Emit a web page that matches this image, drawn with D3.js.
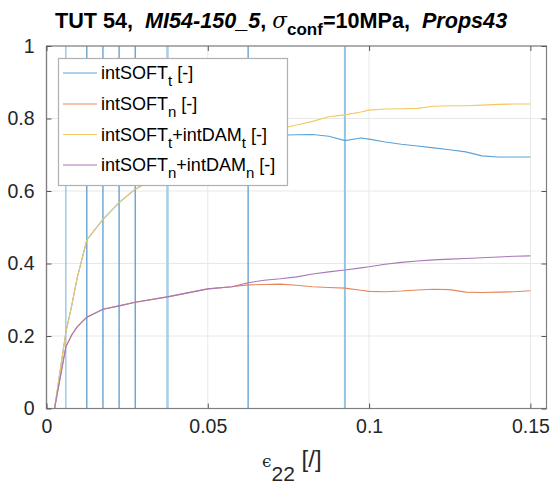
<!DOCTYPE html>
<html>
<head>
<meta charset="utf-8">
<script src="https://cdn.jsdelivr.net/npm/d3@7"></script>
<style>
  html, body { margin: 0; padding: 0; background: #fff; }
  svg { display: block; font-family: "Liberation Sans", Arial, Helvetica, sans-serif; }
  text { white-space: pre; }
</style>
</head>
<body>
<svg id="chart" width="550" height="484"></svg>
<script>
// Strain steps (epsilon_22) at which the interface quantities were sampled
const strain = [0, 0.0025, 0.006, 0.0078, 0.0095, 0.0125, 0.0175, 0.0225, 0.0275, 0.0375, 0.05, 0.0575,
  0.0625, 0.0675, 0.0725, 0.0775, 0.0825, 0.0875, 0.0925, 0.0975, 0.1, 0.105, 0.11, 0.115, 0.12,
  0.125, 0.13, 0.135, 0.14, 0.145, 0.15];

const intSOFTt = [0, 0, 0.21, 0.283, 0.36, 0.465, 0.522, 0.568, 0.605, 0.655, 0.70, 0.722,
  0.738, 0.748, 0.754, 0.755, 0.756, 0.751, 0.739, 0.746, 0.743, 0.735, 0.729, 0.724, 0.719,
  0.714, 0.708, 0.697, 0.694, 0.694, 0.694];

const intSOFTn = [0, 0, 0.17, 0.203, 0.225, 0.252, 0.274, 0.283, 0.293, 0.308, 0.330, 0.336,
  0.341, 0.342, 0.343, 0.340, 0.336, 0.334, 0.332, 0.326, 0.323, 0.322, 0.324, 0.327, 0.329,
  0.328, 0.321, 0.320, 0.321, 0.322, 0.325];

const intSOFTtDAMt = [0, 0, 0.21, 0.283, 0.36, 0.465, 0.522, 0.568, 0.605, 0.655, 0.70, 0.725,
  0.742, 0.757, 0.772, 0.782, 0.792, 0.805, 0.810, 0.818, 0.823, 0.826, 0.827, 0.828, 0.834,
  0.835, 0.835, 0.837, 0.839, 0.840, 0.840];

const intSOFTnDAMn = [0, 0, 0.17, 0.203, 0.225, 0.252, 0.274, 0.283, 0.293, 0.308, 0.330, 0.336,
  0.347, 0.354, 0.358, 0.363, 0.371, 0.377, 0.382, 0.388, 0.391, 0.398, 0.403, 0.407, 0.410,
  0.412, 0.414, 0.416, 0.418, 0.420, 0.421];

// Marked load steps (vertical reference lines)
const markedSteps = [0, 0.006, 0.0125, 0.0175, 0.0225, 0.0275, 0.0375, 0.0625, 0.0925];
const markedColor = ["#5b8fbf", "#86bde0", "#4f92c7", "#4f92c7", "#4f92c7", "#4f92c7", "#a9d0ea", "#4f97cf", "#92c4e6"];
const markedWidth = [1.2, 1.2, 1.2, 1.2, 1.2, 1.2, 2.6, 1.2, 2.0];

const xTicks = [0, 0.05, 0.1, 0.15];
const xTickLabels = ["0", "0.05", "0.1", "0.15"];
const yTicks = [0, 0.2, 0.4, 0.6, 0.8, 1];
const yTickLabels = ["0", "0.2", "0.4", "0.6", "0.8", "1"];

const seriesNames = ["intSOFT_t", "intSOFT_n", "intSOFT_t+intDAM_t", "intSOFT_n+intDAM_n"];
const seriesColors = ["#5aa3d8", "#e5875a", "#f4c862", "#a678b8"];

const svg = d3.select("#chart");
const m = { left: 46.5, right: 546.5, top: 46, bottom: 408.5 };

const x = d3.scaleLinear().domain([0, 0.155]).range([m.left, m.right]);
const y = d3.scaleLinear().domain([0, 1]).range([m.bottom, m.top]);

// grid
const grid = svg.append("g");
grid.selectAll(".gx").data(xTicks).join("line")
  .attr("x1", d => x(d)).attr("x2", d => x(d))
  .attr("y1", m.top).attr("y2", m.bottom)
  .attr("stroke", "#e8e8e8").attr("stroke-width", 1);
grid.selectAll(".gy").data(yTicks).join("line")
  .attr("x1", m.left).attr("x2", m.right)
  .attr("y1", d => y(d)).attr("y2", d => y(d))
  .attr("stroke", "#e8e8e8").attr("stroke-width", 1);

// vertical step markers
svg.append("g").selectAll("line").data(markedSteps).join("line")
  .attr("x1", d => x(d)).attr("x2", d => x(d))
  .attr("y1", m.top).attr("y2", m.bottom)
  .attr("stroke", (d, i) => markedColor[i])
  .attr("stroke-width", (d, i) => markedWidth[i]);

// series
const series = [intSOFTt, intSOFTn, intSOFTtDAMt, intSOFTnDAMn];
const line = d3.line().x(d => x(d[0])).y(d => y(d[1]));
series.forEach((vals, i) => {
  svg.append("path")
    .datum(strain.map((s, k) => [s, vals[k]]))
    .attr("d", line)
    .attr("fill", "none")
    .attr("stroke", seriesColors[i])
    .attr("stroke-width", 1.1);
});

// axes box
const axisColor = "#808080";
const box = svg.append("g").attr("fill", "none");
box.append("rect")
  .attr("x", m.left).attr("y", m.top)
  .attr("width", m.right - m.left).attr("height", m.bottom - m.top)
  .attr("stroke", axisColor).attr("stroke-width", 1.2);

const xAxis = d3.axisBottom(x).tickValues(xTicks).tickFormat((d, i) => xTickLabels[i]).tickSizeInner(-5).tickSizeOuter(0).tickPadding(11);
const gx = svg.append("g").attr("transform", `translate(0,${m.bottom})`).call(xAxis);
gx.select(".domain").remove();
gx.selectAll(".tick line").attr("stroke", "#555");
gx.selectAll(".tick text").attr("font-size", 19.5).attr("fill", "#262626")
  .attr("font-family", "Liberation Sans, Arial, sans-serif");

const xAxisTop = d3.axisTop(x).tickValues(xTicks).tickFormat("").tickSizeInner(-5).tickSizeOuter(0);
const gxt = svg.append("g").attr("transform", `translate(0,${m.top})`).call(xAxisTop);
gxt.select(".domain").remove();
gxt.selectAll(".tick line").attr("stroke", "#555");

const yAxis = d3.axisLeft(y).tickValues(yTicks).tickFormat((d, i) => yTickLabels[i]).tickSizeInner(-5).tickSizeOuter(0).tickPadding(12);
const gy = svg.append("g").attr("transform", `translate(${m.left},0)`).call(yAxis);
gy.select(".domain").remove();
gy.selectAll(".tick line").attr("stroke", "#555");
gy.selectAll(".tick text").attr("font-size", 19.5).attr("fill", "#262626")
  .attr("font-family", "Liberation Sans, Arial, sans-serif");

const yAxisRight = d3.axisRight(y).tickValues(yTicks).tickFormat("").tickSizeInner(-5).tickSizeOuter(0);
const gyr = svg.append("g").attr("transform", `translate(${m.right},0)`).call(yAxisRight);
gyr.select(".domain").remove();
gyr.selectAll(".tick line").attr("stroke", "#555");

// title
const title = svg.append("text")
  .attr("x", 55).attr("y", 28)
  .attr("font-size", 21.6).attr("font-weight", "bold").attr("fill", "#000");
title.append("tspan").text("TUT 54,  ");
title.append("tspan").attr("font-style", "italic").text("MI54-150_5");
title.append("tspan").text(", ");
title.append("tspan").attr("font-weight", "normal").attr("font-family", "DejaVu Serif, serif").attr("font-style", "italic").text("σ");
title.append("tspan").attr("dy", 7).attr("font-size", 17).text("conf");
title.append("tspan").attr("dy", -7).text("=10MPa,  ");
title.append("tspan").attr("font-style", "italic").text("Props43");

// x label
const xl = svg.append("text")
  .attr("x", 262).attr("y", 467)
  .attr("font-size", 24).attr("fill", "#262626");
xl.append("tspan").attr("font-family", "DejaVu Serif, serif").attr("font-size", 17).text("ϵ");
xl.append("tspan").attr("dy", 14).attr("font-size", 21).text("22");
xl.append("tspan").attr("dy", -14).text(" [/]");

// legend
const lg = svg.append("g");
lg.append("rect")
  .attr("x", 58.5).attr("y", 58.5).attr("width", 229).attr("height", 127)
  .attr("fill", "#fff").attr("stroke", "#b0b0b0").attr("stroke-width", 1.2);
const rowY = [73, 104, 134.5, 165];
seriesNames.forEach((name, i) => {
  const cy = rowY[i];
  lg.append("line")
    .attr("x1", 63).attr("x2", 97).attr("y1", cy).attr("y2", cy)
    .attr("stroke", seriesColors[i]).attr("stroke-width", 1.1);
  const t = lg.append("text").attr("x", 101).attr("y", cy + 6)
    .attr("font-size", 18).attr("fill", "#000");
  // name like "intSOFT_t+intDAM_t": letters after "_" are drawn as subscripts
  const parts = name.split("+");
  parts.forEach((p, j) => {
    const [base, sub] = p.split("_");
    t.append("tspan").attr("dy", j === 0 ? 0 : -7).text((j > 0 ? "+" : "") + base);
    t.append("tspan").attr("dy", 7).attr("font-size", 15).text(sub);
  });
  t.append("tspan").attr("dy", -7).text(" [-]");
});
</script>
</body>
</html>
